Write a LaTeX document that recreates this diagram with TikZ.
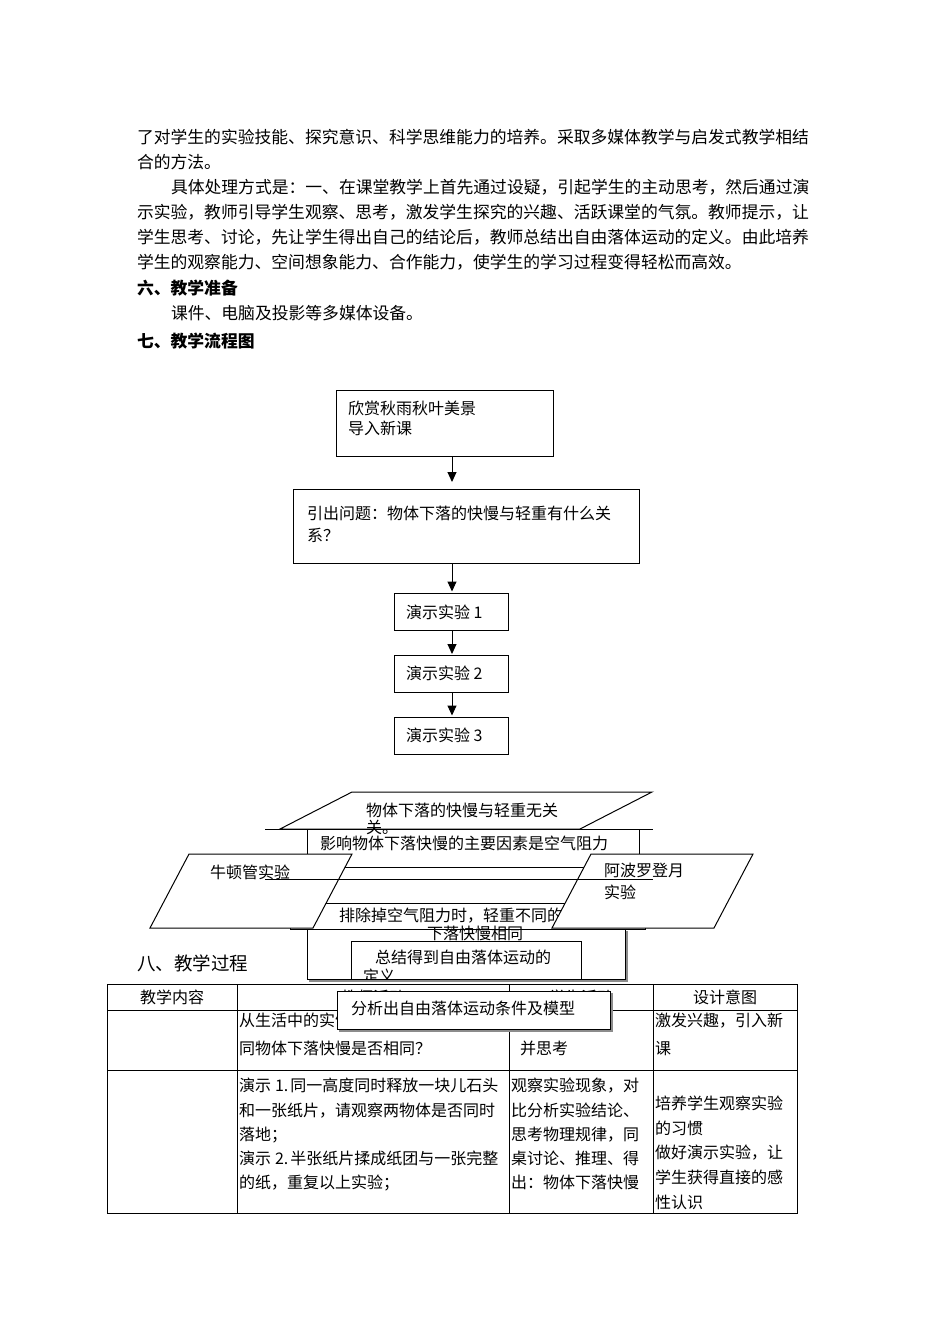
\documentclass[tikz,border=0pt]{standalone}
\usepackage{fontspec}
\setmainfont{Noto Sans CJK SC}
\usetikzlibrary{arrows.meta}
\XeTeXinterchartokenstate=1
\newcommand\cjkglue{\hskip 0pt plus 3pt\relax}
\XeTeXinterchartoks 1 1 {\cjkglue}
\XeTeXinterchartoks 1 2 {\cjkglue}
\XeTeXinterchartoks 1 3 {\cjkglue}
\XeTeXinterchartoks 2 1 {\cjkglue}
\XeTeXinterchartoks 3 1 {\cjkglue}
\XeTeXinterchartoks 3 2 {\cjkglue}
\XeTeXinterchartoks 3 3 {\cjkglue}
\XeTeXinterchartoks 0 1 {\cjkglue}
\XeTeXinterchartoks 1 0 {\cjkglue}
\newcommand\jline[2]{\makebox[#1][s]{#2}}
\tikzset{
  txt/.style={anchor=west, inner sep=0pt, outer sep=0pt},
  ctxt/.style={anchor=center, inner sep=0pt, outer sep=0pt},
  tbody/.style={font=\fontsize{16.8pt}{20pt}\selectfont, text height=14.8pt, text depth=2pt},
  tbold/.style={font=\fontsize{16.8pt}{20pt}\selectfont\bfseries, text height=14.8pt, text depth=2pt},
  tbig/.style={font=\fontsize{18.5pt}{22pt}\selectfont, text height=16.3pt, text depth=2.2pt},
  tsm/.style={font=\fontsize{16pt}{19pt}\selectfont, text height=14.1pt, text depth=1.9pt},
  flowbox/.style={draw, line width=1pt, inner sep=0pt, outer sep=0pt, fill=white},
  arr/.style={-{Triangle[length=10pt,width=9pt]}, line width=1pt},
  frame/.style={draw, line width=1pt, fill=white},
  plainline/.style={line width=1pt},
  shadowline/.style={draw=black!45, line width=1.2pt}
}
\begin{document}
\begin{tikzpicture}[x=1pt,y=-1pt]
\useasboundingbox (0,0) rectangle (950,1344);
\fill[white] (0,0) rectangle (950,1344);

% ---- body text ----
\node[txt,tbody] (p1) at (137,137) {\jline{675pt}{了对学生的实验技能、探究意识、科学思维能力的培养。采取多媒体教学与启发式教学相结}};
\node[txt,tbody] (p2) at (137,162) {合的方法。};
\node[txt,tbody] (p3) at (171,187) {\jline{641pt}{具体处理方式是：一、在课堂教学上首先通过设疑，引起学生的主动思考，然后通过演}};
\node[txt,tbody] (p4) at (137,212) {\jline{675pt}{示实验，教师引导学生观察、思考，激发学生探究的兴趣、活跃课堂的气氛。教师提示，让}};
\node[txt,tbody] (p5) at (137,237) {\jline{675pt}{学生思考、讨论，先让学生得出自己的结论后，教师总结出自由落体运动的定义。由此培养}};
\node[txt,tbody] (p6) at (137,262) {学生的观察能力、空间想象能力、合作能力，使学生的学习过程变得轻松而高效。};
\node[txt,tbold] (h6) at (137,288) {六、教学准备};
\node[txt,tbody] (p7) at (171,313) {课件、电脑及投影等多媒体设备。};
\node[txt,tbold] (h7) at (137,341) {七、教学流程图};

% ---- flow chart (upper part) ----
\coordinate (ax) at (452,0);
\node[flowbox, minimum width=217pt, minimum height=66pt] (b1) at (444.5,423) {};
\node[flowbox, minimum width=346pt, minimum height=74pt] (b2) at (466,526) {};
\node[flowbox, minimum width=114pt, minimum height=37pt] (b3) at (451,611.5) {};
\node[flowbox, minimum width=114pt, minimum height=37pt] (b4) at (451,674) {};
\node[flowbox, minimum width=114pt, minimum height=37pt] (b5) at (451,735.5) {};
\node[txt,tsm] (b1a) at (348,408) {欣赏秋雨秋叶美景};
\node[txt,tsm] (b1b) at (348,428) {导入新课};
\node[txt,tsm] (b2a) at (307,513) {\jline{321pt}{引出问题：物体下落的快慢与轻重有什么关}};
\node[txt,tsm] (b2b) at (307,535) {系？};
\node[txt,tsm] (b3t) at (406,612) {演示实验 1};
\node[txt,tsm] (b4t) at (406,673) {演示实验 2};
\node[txt,tsm] (b5t) at (406,735) {演示实验 3};
\draw[arr, shorten >=7pt] (b1.south -| ax) -- (b2.north -| ax);
\draw[arr, shorten >=1.5pt] (b2.south -| ax) -- (b3.north -| ax);
\draw[arr, shorten >=1.5pt] (b3.south -| ax) -- (b4.north -| ax);
\draw[arr, shorten >=1.5pt] (b4.south -| ax) -- (b5.north -| ax);

% ---- overlapping shapes (lower part) ----
\draw[frame] (352,792) -- (652,792) -- (580,829) -- (280,829) -- cycle;
\node[txt,tsm] (pa) at (366,810) {物体下落的快慢与轻重无关};
\draw[frame] (307,829) rectangle (639,867);
\node[txt,tsm] (pb) at (320,843) {\jline{298pt}{影响物体下落快慢的主要因素是空气阻力}};
\node[txt,tsm] (pa2) at (366,827) {关。};
\draw[plainline] (265,829) -- (653,829);
\draw[frame] (290,903) rectangle (645,929);
\node[txt,tsm] (pe) at (339,915) {排除掉空气阻力时，轻重不同的};
\node[txt,tsm] (pe2) at (427,933) {下落快慢相同};
\draw[frame] (189,854) -- (352,854) -- (313,928) -- (150,928) -- cycle;
\node[txt,tsm] (pc) at (210,872) {牛顿管实验};
\draw[frame] (591,854) -- (753,854) -- (714,928) -- (552,928) -- cycle;
\node[txt,tsm] (pd) at (604,870) {阿波罗登月};
\node[txt,tsm] (pd2) at (604,892) {实验};
\draw[plainline] (265,879) -- (653,879);
\draw[plainline] (307,929) rectangle (625,979);
\draw[shadowline] (627,931) -- (627,981) -- (309,981);
\draw[frame] (351,941) rectangle (581,979);
\begin{scope}
  \clip (351,941) rectangle (581,979);
  \node[txt,tsm] (pg) at (375,957) {\jline{192pt}{总结得到自由落体运动的}};
  \node[txt,tsm] (pg2) at (363,976) {定义};
\end{scope}

% ---- section 8 heading ----
\node[txt,tbig] (h8) at (137,963) {八、教学过程};

% ---- table ----
\draw[plainline] (107,984) rectangle (797,1213);
\draw[plainline] (107,1010) -- (797,1010);
\draw[plainline] (107,1070) -- (797,1070);
\draw[plainline] (237,984) -- (237,1213);
\draw[plainline] (509,984) -- (509,1213);
\draw[plainline] (653,984) -- (653,1213);
\node[ctxt,tsm] (th1) at (172,997) {教学内容};
\node[ctxt,tsm] (th2) at (373,997) {教师活动};
\node[ctxt,tsm] (th3) at (581,997) {学生活动};
\node[ctxt,tsm] (th4) at (725,997) {设计意图};
\node[txt,tsm] (r1a) at (239,1020) {\jline{269pt}{从生活中的实例出发，提出问题：不}};
\node[txt,tsm] (r1b) at (239,1048) {同物体下落快慢是否相同？};
\node[txt,tsm] (r1c) at (520,1048) {并思考};
\node[txt,tsm] (r1d) at (655,1020) {\jline{142pt}{激发兴趣，引入新}};
\node[txt,tsm] (r1e) at (655,1048) {课};
\node[txt,tsm] (r2a) at (239,1085) {\jline{269pt}{演示\kern4pt1.\kern2pt同一高度同时释放一块儿石头}};
\node[txt,tsm] (r2b) at (239,1110) {\jline{269pt}{和一张纸片，请观察两物体是否同时}};
\node[txt,tsm] (r2c) at (239,1134) {落地；};
\node[txt,tsm] (r2d) at (239,1158) {\jline{269pt}{演示\kern4pt2.\kern2pt半张纸片揉成纸团与一张完整}};
\node[txt,tsm] (r2e) at (239,1182) {的纸，重复以上实验；};
\node[txt,tsm] (s2a) at (511,1085) {\jline{141pt}{观察实验现象，对}};
\node[txt,tsm] (s2b) at (511,1110) {\jline{141pt}{比分析实验结论、}};
\node[txt,tsm] (s2c) at (511,1134) {\jline{141pt}{思考物理规律，同}};
\node[txt,tsm] (s2d) at (511,1158) {\jline{141pt}{桌讨论、推理、得}};
\node[txt,tsm] (s2e) at (511,1182) {\jline{141pt}{出：物体下落快慢}};
\node[txt,tsm] (d2a) at (655,1103) {\jline{142pt}{培养学生观察实验}};
\node[txt,tsm] (d2b) at (655,1128) {的习惯};
\node[txt,tsm] (d2c) at (655,1152) {\jline{142pt}{做好演示实验，让}};
\node[txt,tsm] (d2d) at (655,1177) {\jline{142pt}{学生获得直接的感}};
\node[txt,tsm] (d2e) at (655,1202) {性认识};

% ---- box over table ----
\draw[frame] (337,991) rectangle (610,1029);
\draw[shadowline] (612,993) -- (612,1031) -- (339,1031);
\node[txt,tsm] (ph) at (351,1008) {\jline{231pt}{分析出自由落体运动条件及模型}};
\end{tikzpicture}
\end{document}
